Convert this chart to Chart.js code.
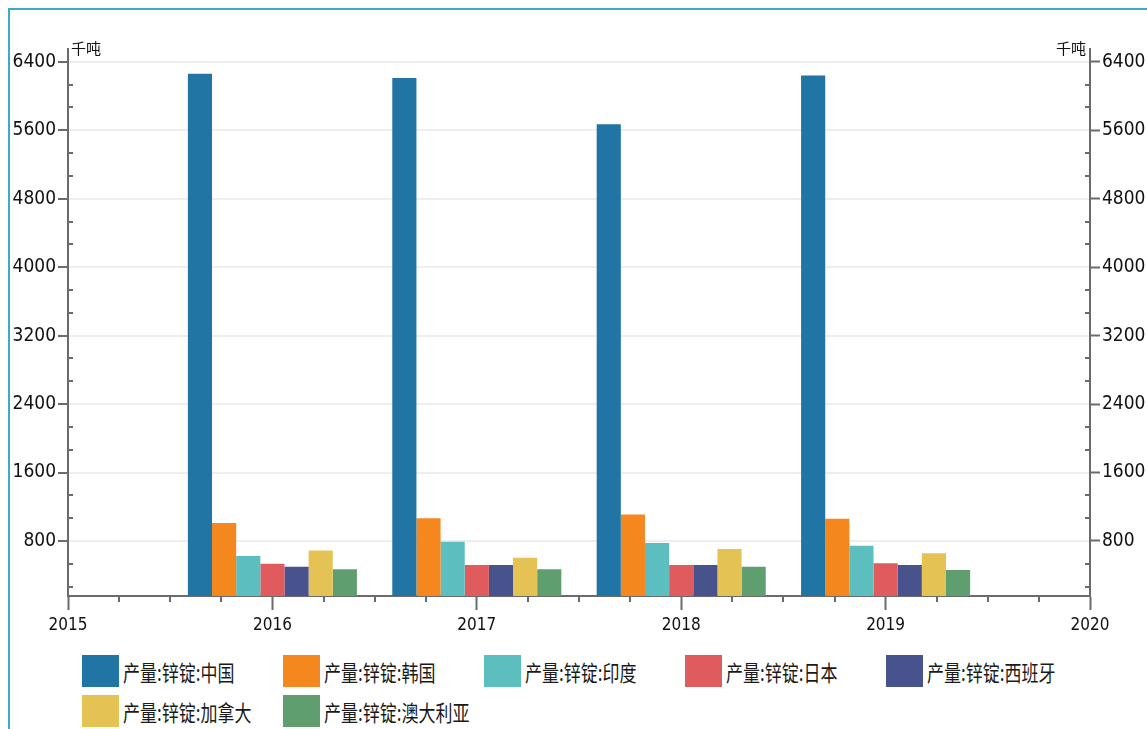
<!DOCTYPE html>
<html>
<head>
<meta charset="utf-8">
<title>锌锭产量</title>
<script src="https://cdn.jsdelivr.net/npm/chart.js@4.4.1/dist/chart.umd.min.js"></script>
<style>
	html, body { margin: 0; padding: 0; background: #fff; }
	body { width: 1147px; height: 729px; position: relative; overflow: hidden; }
	.frame { position: absolute; left: 8px; top: 8px; right: -10px; bottom: -10px; border-left: 2px solid #3aa9d4; border-top: 2px solid #3aa9d4; }
	#chart { position: absolute; left: 0; top: 0; }
	.legend { position: absolute; left: 82px; top: 655px; display: grid; grid-template-columns: repeat(5, 201px); row-gap: 8px; }
	.legend-item { display: flex; align-items: center; height: 32px; }
	.legend-swatch { width: 37px; height: 32px; margin-right: 4px; flex: none; }
	.legend-text { font-family: 'Noto Sans CJK SC', sans-serif; font-size: 17px; color: #1a1a1a; white-space: nowrap; transform: scaleY(1.3); transform-origin: left center; }
</style>
</head>
<body>
<div class="frame"></div>
<canvas id="chart" width="1147" height="645"></canvas>
<div class="legend" id="legend"></div>
<script>
const years = [2016, 2017, 2018, 2019];
const xTicks = [2015, 2016, 2017, 2018, 2019, 2020];
const yTicks = [800, 1600, 2400, 3200, 4000, 4800, 5600, 6400];
const unit = '千吨';

const seriesNames = ['产量:锌锭:中国', '产量:锌锭:韩国', '产量:锌锭:印度', '产量:锌锭:日本', '产量:锌锭:西班牙', '产量:锌锭:加拿大', '产量:锌锭:澳大利亚'];
const china = [6260, 6210, 5670, 6240];
const korea = [1010, 1065, 1110, 1060];
const india = [625, 790, 775, 745];
const japan = [535, 520, 520, 540];
const spain = [500, 520, 520, 520];
const canada = [690, 605, 705, 658];
const australia = [470, 470, 500, 460];
const seriesColors = ['#2175a5', '#f5871f', '#5dbec0', '#e05b5e', '#48538e', '#e4c354', '#5f9f6f'];

const axisColor = '#6b6b6b';
const textColor = '#111';
const yMin = 157;
const yMax = 6550;

const seriesValues = [china, korea, india, japan, spain, canada, australia];

// minor ticks (4 per year on x, 3 per 800 on y) and the unit labels over both y axes
const minorTicks = {
	id: 'minorTicks',
	afterDraw(chart) {
		const { ctx } = chart;
		const { x, y, y2 } = chart.scales;
		ctx.save();
		ctx.strokeStyle = axisColor;
		ctx.lineWidth = 2;
		ctx.beginPath();
		for (let i = 0; i < xTicks.length - 1; i++) {
			for (let k = 1; k < 4; k++) {
				const px = Math.round(x.getPixelForValue(xTicks[i] + k / 4));
				ctx.moveTo(px, x.top);
				ctx.lineTo(px, x.top + 6);
			}
		}
		const step = yTicks[1] - yTicks[0];
		for (let n = 1; n * step / 3 < yMax; n++) {
			if (n % 3 === 0) continue;
			const v = n * step / 3;
			if (v < yMin) continue;
			const py = Math.round(y.getPixelForValue(v));
			ctx.moveTo(y.right, py);
			ctx.lineTo(y.right + 5, py);
			ctx.moveTo(y2.left, py);
			ctx.lineTo(y2.left - 5, py);
		}
		ctx.stroke();

		ctx.fillStyle = textColor;
		ctx.font = '15px "Noto Sans CJK SC", sans-serif';
		ctx.textBaseline = 'top';
		ctx.textAlign = 'left';
		ctx.fillText(unit, y.right + 3, 41);
		ctx.textAlign = 'right';
		ctx.fillText(unit, y2.left - 4, 41);
		ctx.restore();
	}
};

const tickFamily = "'DejaVu Sans Condensed', 'Noto Sans', sans-serif";

const chart = new Chart(document.getElementById('chart'), {
	type: 'bar',
	data: {
		datasets: seriesNames.map((name, i) => ({
			label: name,
			data: years.map((yr, j) => ({ x: yr, y: seriesValues[i][j] })),
			backgroundColor: seriesColors[i],
			borderWidth: 0,
			categoryPercentage: 0.827,
			barPercentage: 1,
			yAxisID: 'y'
		}))
	},
	options: {
		responsive: false,
		animation: false,
		layout: { padding: { top: 49, left: 0, right: 0, bottom: 0 } },
		plugins: {
			legend: { display: false },
			tooltip: { enabled: false }
		},
		scales: {
			x: {
				type: 'linear',
				offset: false,
				min: xTicks[0],
				max: xTicks[xTicks.length - 1],
				afterBuildTicks: s => { s.ticks = xTicks.map(v => ({ value: v })); },
				afterFit: s => { s.height = 49; },
				border: { color: axisColor, width: 2 },
				grid: { offset: false, drawOnChartArea: false, tickLength: 14, tickColor: axisColor, tickWidth: 2 },
				ticks: {
					padding: 5,
					color: textColor,
					font: { family: tickFamily, size: 17 },
					callback: v => String(v)
				}
			},
			y: {
				position: 'left',
				min: yMin,
				max: yMax,
				afterBuildTicks: s => { s.ticks = yTicks.map(v => ({ value: v })); },
				afterFit: s => { s.width = 68; },
				border: { color: axisColor, width: 2 },
				grid: { color: '#eeeeee', lineWidth: 2, tickLength: 10, tickColor: axisColor, tickWidth: 2 },
				ticks: { padding: 2, color: textColor, font: { family: tickFamily, size: 19 }, callback: v => String(v) }
			},
			y2: {
				position: 'right',
				min: yMin,
				max: yMax,
				afterBuildTicks: s => { s.ticks = yTicks.map(v => ({ value: v })); },
				afterFit: s => { s.width = 57; },
				border: { color: axisColor, width: 2 },
				grid: { drawOnChartArea: false, tickLength: 10, tickColor: axisColor, tickWidth: 2 },
				ticks: { padding: 2, color: textColor, font: { family: tickFamily, size: 19 }, callback: v => String(v) }
			}
		}
	},
	plugins: [minorTicks]
});

// legend laid out as a fixed grid below the plot
const legendEl = document.getElementById('legend');
chart.data.datasets.forEach(ds => {
	const item = document.createElement('div');
	item.className = 'legend-item';
	item.innerHTML = `<span class="legend-swatch" style="background:${ds.backgroundColor}"></span><span class="legend-text">${ds.label}</span>`;
	legendEl.appendChild(item);
});
</script>
</body>
</html>
